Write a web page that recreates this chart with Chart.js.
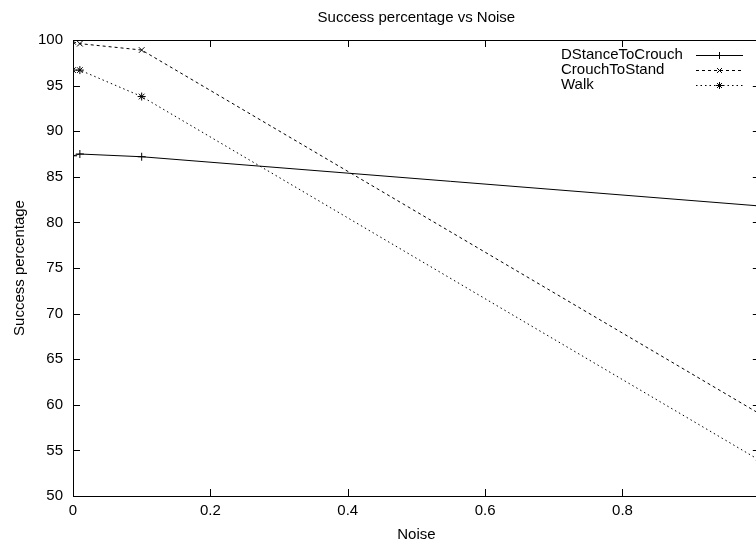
<!DOCTYPE html>
<html>
<head>
<meta charset="utf-8">
<script src="https://cdn.jsdelivr.net/npm/chart.js@4"></script>
<style>
  html, body { margin: 0; padding: 0; background: #fff; overflow: hidden; width: 756px; height: 544px; }
  #wrap { position: relative; width: 770px; height: 544px; }
</style>
</head>
<body>
<div id="wrap"><canvas id="myChart"></canvas></div>
<script>
// noise levels (x) and success percentages per motion
var noise = [0, 0.01, 0.1, 1];
var seriesNames = ['DStanceToCrouch', 'CrouchToStand', 'Walk'];
var dstanceToCrouch = [87.3, 87.5, 87.2, 81.8];
var crouchToStand = [99.8, 99.6, 98.9, 59.0];
var walk = [96.7, 96.7, 93.8, 53.9];
var xTicks = [0, 0.2, 0.4, 0.6, 0.8, 1];
var yTicks = [50, 55, 60, 65, 70, 75, 80, 85, 90, 95, 100];

function pts(ys) {
    return noise.map(function (x, i) { return { x: x, y: ys[i] }; });
}

var FONT = 'Liberation Sans, Arial, sans-serif';

// gnuplot style: closed box with inward ticks on all four sides
var boxTicks = {
    id: 'boxTicks',
    afterDatasetsDraw: function (chart) {
        var c = chart.ctx, a = chart.chartArea;
        var xs = chart.scales.x, ys = chart.scales.y;
        var len = 7;
        c.save();
        c.strokeStyle = '#000';
        c.lineWidth = 1;
        c.beginPath();
        xTicks.forEach(function (v) {
            var px = Math.round(xs.getPixelForValue(v)) + 0.5;
            c.moveTo(px, a.bottom); c.lineTo(px, a.bottom - len);
            c.moveTo(px, a.top); c.lineTo(px, a.top + len);
        });
        yTicks.forEach(function (v) {
            var py = Math.round(ys.getPixelForValue(v)) + 0.5;
            c.moveTo(a.left, py); c.lineTo(a.left + len, py);
            c.moveTo(a.right, py); c.lineTo(a.right - len, py);
        });
        c.stroke();
        c.strokeRect(Math.round(a.left) + 0.5, Math.round(a.top) + 0.5,
            Math.round(a.right - a.left), Math.round(a.bottom - a.top));
        c.restore();
    }
};

// key in the top right corner: label, then line sample with marker
var gnuKey = {
    id: 'gnuKey',
    afterDraw: function (chart) {
        var c = chart.ctx;
        var textLeft = 561, x0 = 696, x1 = 743, y0 = 54.5, step = 15;
        c.save();
        c.font = '15px ' + FONT;
        c.textAlign = 'left';
        c.textBaseline = 'middle';
        chart.data.datasets.forEach(function (ds, i) {
            var y = y0 + i * step;
            c.fillStyle = '#000';
            c.fillText(ds.label, textLeft, y);
            c.strokeStyle = '#000';
            c.lineWidth = 1;
            c.setLineDash(ds.borderDash || []);
            c.beginPath();
            c.moveTo(x0, Math.round(y) + 0.5);
            c.lineTo(x1, Math.round(y) + 0.5);
            c.stroke();
            c.setLineDash([]);
            Chart.helpers.drawPoint(c, {
                pointStyle: ds.pointStyle, radius: 3.5, borderWidth: 1
            }, (x0 + x1) / 2, Math.round(y) + 0.5);
        });
        c.restore();
    }
};

var common = {
    borderColor: '#000',
    backgroundColor: '#000',
    pointBorderColor: '#000',
    borderWidth: 1,
    pointRadius: 4,
    pointBorderWidth: 1,
    tension: 0,
    fill: false
};

var myChart = new Chart(document.getElementById('myChart'), {
    type: 'line',
    data: {
        datasets: [
            Object.assign({ label: seriesNames[0], data: pts(dstanceToCrouch), pointStyle: 'cross' }, common),
            Object.assign({ label: seriesNames[1], data: pts(crouchToStand), pointStyle: 'crossRot', borderDash: [3, 3] }, common),
            Object.assign({ label: seriesNames[2], data: pts(walk), pointStyle: 'star', borderDash: [1.5, 3] }, common)
        ]
    },
    options: {
        responsive: true,
        maintainAspectRatio: false,
        animation: false,
        layout: { padding: { top: 0, right: 7, bottom: 0, left: 11 } },
        plugins: {
            legend: { display: false },
            tooltip: { enabled: false },
            title: {
                display: true,
                text: 'Success percentage vs Noise',
                fullSize: false,
                color: '#000',
                font: { family: FONT, size: 15, weight: 'normal' },
                padding: { top: 9, bottom: 13 }
            }
        },
        scales: {
            x: {
                type: 'linear',
                min: 0,
                max: 1,
                afterFit: function (s) { s.height = 48; },
                afterBuildTicks: function (s) { s.ticks = xTicks.map(function (v) { return { value: v }; }); },
                grid: { display: false, drawTicks: false },
                border: { display: false },
                ticks: {
                    color: '#000',
                    padding: 6,
                    maxRotation: 0,
                    font: { family: FONT, size: 15 },
                    callback: function (v) { return v; }
                },
                title: {
                    display: true,
                    text: 'Noise',
                    color: '#000',
                    font: { family: FONT, size: 15 },
                    padding: { top: 0, bottom: 0 }
                }
            },
            y: {
                min: 50,
                max: 100,
                afterFit: function (s) { s.width = 62; },
                afterBuildTicks: function (s) { s.ticks = yTicks.map(function (v) { return { value: v }; }); },
                grid: { display: false, drawTicks: false },
                border: { display: false },
                ticks: {
                    color: '#000',
                    padding: 10,
                    font: { family: FONT, size: 15 }
                },
                title: {
                    display: true,
                    text: 'Success percentage',
                    color: '#000',
                    font: { family: FONT, size: 15 },
                    padding: { top: 0, bottom: 0 }
                }
            }
        }
    },
    plugins: [boxTicks, gnuKey]
});
</script>
</body>
</html>
